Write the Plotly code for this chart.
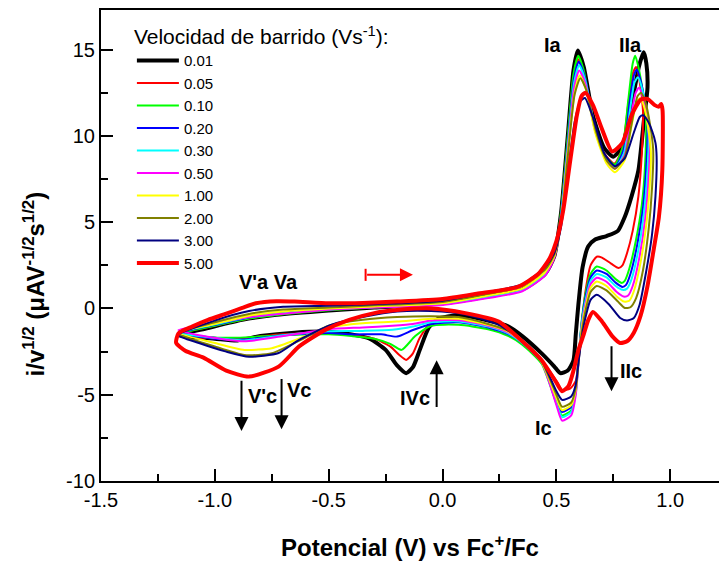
import plotly.graph_objects as go

# Scan rates (V/s) and their line styles
SCAN_RATES = ["0.01", "0.05", "0.10", "0.20", "0.30", "0.50", "1.00", "2.00", "3.00", "5.00"]
COLORS = ["#000000", "#ff0000", "#00ff00", "#0000ff", "#00ffff",
          "#ff00ff", "#ffff00", "#808000", "#000080", "#ff0000"]
WIDTHS = [4, 2, 2, 2, 2, 2, 2, 2, 2, 4]

# Axis ticks (plain hyphen minus signs)
X_TICKS = [-1.5, -1.0, -0.5, 0.0, 0.5, 1.0]
X_TICK_TEXT = ["-1.5", "-1.0", "-0.5", "0.0", "0.5", "1.0"]
Y_TICKS = [-10, -5, 0, 5, 10, 15]
Y_TICK_TEXT = ["-10", "-5", "0", "5", "10", "15"]

# Normalised voltammograms, (E vs Fc+/Fc [V], i/v^1/2) along each closed cycle:
# anodic sweep from the negative vertex, then the cathodic return.
CV_001 = [(-1.16, -1.55), (-1.03, -1.13), (-0.88, -0.66), (-0.73, -0.37), (-0.5, -0.12), (-0.3, 0.05),
          (0.0, 0.3), (0.2, 0.7), (0.35, 1.1), (0.45, 2.0), (0.49, 3.0), (0.52, 5.5), (0.55, 10.0),
          (0.575, 13.8), (0.594, 14.95), (0.62, 14.0), (0.66, 11.2), (0.71, 9.3), (0.75, 8.8),
          (0.79, 9.4), (0.83, 11.8), (0.862, 14.0), (0.883, 14.85), (0.895, 14.2), (0.9, 12.8),
          (0.885, 11.0), (0.86, 8.0), (0.83, 6.5), (0.8, 5.3), (0.77, 4.5), (0.72, 4.2), (0.67, 4.0),
          (0.64, 3.6), (0.615, 2.4), (0.597, 0.3), (0.585, -1.5), (0.575, -3.0), (0.55, -3.6),
          (0.517, -3.75), (0.49, -3.35), (0.435, -2.6), (0.35, -1.6), (0.29, -1.05), (0.2, -0.7),
          (0.07, -0.4), (-0.02, -0.6), (-0.06, -1.1), (-0.1, -2.4), (-0.13, -3.4), (-0.16, -3.75),
          (-0.2, -3.3), (-0.25, -2.4), (-0.32, -1.75), (-0.4, -1.5), (-0.5, -1.35), (-0.65, -1.4),
          (-0.8, -1.6), (-0.9, -1.85), (-1.0, -1.75), (-1.1, -1.65), (-1.16, -1.55)]

CV_005 = [(-1.16, -1.5), (-1.0, -1.0), (-0.85, -0.58), (-0.7, -0.32), (-0.5, -0.08), (-0.3, 0.08),
          (0.0, 0.3), (0.2, 0.7), (0.35, 1.1), (0.45, 2.0), (0.49, 3.0), (0.52, 5.5), (0.55, 9.8),
          (0.575, 13.4), (0.596, 14.45), (0.62, 13.6), (0.66, 11.0), (0.71, 9.0), (0.755, 8.4),
          (0.79, 9.3), (0.815, 11.8), (0.835, 13.6), (0.85, 14.0), (0.865, 13.2), (0.88, 11.5),
          (0.875, 9.0), (0.86, 6.5), (0.835, 4.5), (0.81, 3.2), (0.79, 2.5), (0.773, 2.35),
          (0.74, 2.6), (0.7, 2.95), (0.677, 3.0), (0.65, 2.5), (0.63, 1.2), (0.612, -0.8),
          (0.598, -2.8), (0.585, -4.2), (0.56, -4.65), (0.525, -4.72), (0.5, -4.2), (0.435, -3.0),
          (0.35, -1.9), (0.29, -1.4), (0.2, -1.0), (0.07, -0.7), (-0.05, -0.8), (-0.1, -1.7),
          (-0.13, -2.6), (-0.16, -2.98), (-0.19, -2.7), (-0.23, -2.2), (-0.3, -1.75), (-0.4, -1.55),
          (-0.5, -1.45), (-0.7, -1.5), (-0.9, -1.75), (-1.05, -1.7), (-1.16, -1.5)]

CV_010 = [(-1.16, -1.5), (-1.0, -1.0), (-0.85, -0.58), (-0.7, -0.33), (-0.5, -0.1), (-0.3, 0.05),
          (0.0, 0.25), (0.2, 0.65), (0.35, 1.05), (0.45, 2.0), (0.49, 3.0), (0.52, 5.6), (0.55, 10.0),
          (0.575, 13.6), (0.596, 14.65), (0.62, 13.8), (0.66, 11.0), (0.71, 8.9), (0.757, 8.35),
          (0.79, 9.3), (0.815, 12.0), (0.835, 14.2), (0.846, 14.65), (0.86, 14.0), (0.88, 12.5),
          (0.893, 11.0), (0.89, 8.5), (0.875, 6.0), (0.85, 4.0), (0.82, 2.3), (0.8, 1.6),
          (0.787, 1.48), (0.76, 1.7), (0.72, 2.2), (0.677, 2.43), (0.65, 2.0), (0.63, 1.0),
          (0.612, -0.6), (0.598, -2.8), (0.585, -4.8), (0.565, -5.9), (0.525, -6.2), (0.5, -5.5),
          (0.435, -3.2), (0.35, -2.1), (0.29, -1.6), (0.2, -1.2), (0.07, -0.95), (-0.05, -1.0),
          (-0.12, -1.6), (-0.18, -2.4), (-0.23, -2.05), (-0.3, -1.75), (-0.4, -1.6), (-0.5, -1.5),
          (-0.7, -1.55), (-0.9, -1.7), (-1.05, -1.65), (-1.16, -1.5)]

CV_020 = [(-1.16, -1.45), (-1.0, -0.95), (-0.85, -0.52), (-0.7, -0.28), (-0.5, -0.05), (-0.3, 0.08),
          (0.0, 0.28), (0.2, 0.7), (0.35, 1.1), (0.45, 2.05), (0.49, 3.0), (0.52, 5.4), (0.55, 9.6),
          (0.577, 13.3), (0.598, 14.3), (0.625, 13.4), (0.665, 10.8), (0.715, 8.7), (0.757, 8.2),
          (0.795, 9.2), (0.82, 11.8), (0.84, 13.5), (0.853, 13.85), (0.87, 13.2), (0.89, 11.8),
          (0.9, 10.5), (0.895, 8.3), (0.88, 5.8), (0.855, 3.7), (0.825, 2.0), (0.805, 1.35),
          (0.79, 1.25), (0.76, 1.5), (0.72, 2.0), (0.677, 2.2), (0.65, 1.8), (0.63, 0.8),
          (0.612, -0.7), (0.598, -2.8), (0.585, -4.7), (0.565, -5.7), (0.525, -6.0), (0.5, -5.3),
          (0.435, -3.1), (0.35, -2.0), (0.29, -1.5), (0.2, -1.1), (0.07, -0.8), (-0.05, -0.9),
          (-0.13, -1.25), (-0.2, -1.63), (-0.27, -1.5), (-0.4, -1.5), (-0.5, -1.42), (-0.7, -1.55),
          (-0.87, -1.8), (-1.0, -1.75), (-1.16, -1.45)]

CV_030 = [(-1.16, -1.4), (-1.0, -0.92), (-0.85, -0.5), (-0.7, -0.27), (-0.5, -0.05), (-0.3, 0.08),
          (0.0, 0.25), (0.2, 0.65), (0.35, 1.05), (0.45, 2.0), (0.49, 3.0), (0.52, 5.3), (0.55, 9.4),
          (0.578, 13.1), (0.6, 14.1), (0.627, 13.2), (0.667, 10.6), (0.717, 8.65), (0.757, 8.15),
          (0.797, 9.0), (0.822, 11.4), (0.843, 13.1), (0.858, 13.4), (0.875, 12.8), (0.895, 11.3),
          (0.905, 10.0), (0.9, 8.0), (0.885, 5.6), (0.86, 3.4), (0.83, 1.7), (0.81, 1.15),
          (0.79, 1.08), (0.76, 1.3), (0.72, 1.8), (0.677, 2.0), (0.65, 1.6), (0.63, 0.6),
          (0.612, -0.8), (0.598, -2.9), (0.585, -4.9), (0.565, -6.0), (0.525, -6.3), (0.5, -5.5),
          (0.435, -3.1), (0.35, -2.0), (0.29, -1.45), (0.2, -1.05), (0.07, -0.75), (-0.05, -0.8),
          (-0.13, -1.05), (-0.22, -1.24), (-0.35, -1.3), (-0.5, -1.32), (-0.7, -1.55),
          (-0.87, -1.85), (-1.0, -1.7), (-1.16, -1.4)]

CV_050 = [(-1.16, -1.25), (-1.0, -0.85), (-0.85, -0.5), (-0.7, -0.3), (-0.5, -0.07), (-0.3, 0.05),
          (0.0, 0.2), (0.2, 0.6), (0.35, 1.0), (0.45, 1.9), (0.49, 2.9), (0.52, 5.1), (0.55, 9.2),
          (0.578, 12.8), (0.6, 13.8), (0.628, 13.0), (0.668, 10.4), (0.718, 8.6), (0.757, 8.1),
          (0.8, 8.9), (0.826, 11.0), (0.848, 12.5), (0.863, 12.8), (0.88, 12.2), (0.9, 10.8),
          (0.91, 9.5), (0.905, 7.6), (0.89, 5.2), (0.865, 3.0), (0.835, 1.3), (0.815, 0.75),
          (0.795, 0.69), (0.765, 0.95), (0.72, 1.55), (0.677, 1.78), (0.65, 1.4), (0.63, 0.4),
          (0.612, -1.0), (0.598, -3.0), (0.585, -5.0), (0.565, -6.2), (0.525, -6.5), (0.5, -5.6),
          (0.435, -3.1), (0.35, -1.95), (0.29, -1.4), (0.2, -1.0), (0.07, -0.68), (-0.05, -0.7),
          (-0.13, -0.9), (-0.22, -1.0), (-0.35, -1.1), (-0.5, -1.2), (-0.7, -1.6), (-0.87, -1.9),
          (-1.05, -1.6), (-1.16, -1.25)]

CV_100 = [(-1.16, -1.4), (-1.0, -0.9), (-0.85, -0.42), (-0.7, -0.17), (-0.5, 0.0), (-0.3, 0.12),
          (0.0, 0.3), (0.2, 0.75), (0.35, 1.15), (0.45, 2.1), (0.49, 3.0), (0.52, 5.0), (0.55, 9.0),
          (0.58, 12.5), (0.602, 13.5), (0.63, 12.7), (0.67, 10.2), (0.72, 8.4), (0.757, 7.9),
          (0.8, 8.6), (0.83, 10.6), (0.853, 12.0), (0.868, 12.2), (0.885, 11.7), (0.905, 10.3),
          (0.915, 9.0), (0.91, 7.2), (0.895, 4.9), (0.87, 2.7), (0.84, 1.0), (0.82, 0.45),
          (0.797, 0.4), (0.765, 0.7), (0.72, 1.3), (0.677, 1.56), (0.65, 1.2), (0.63, 0.2),
          (0.612, -1.1), (0.598, -2.9), (0.585, -4.7), (0.565, -5.6), (0.525, -5.9), (0.5, -5.2),
          (0.435, -3.1), (0.35, -1.95), (0.29, -1.35), (0.2, -0.95), (0.07, -0.6), (-0.05, -0.6),
          (-0.2, -0.76), (-0.35, -0.85), (-0.5, -1.1), (-0.62, -1.7), (-0.75, -2.3), (-0.87, -2.4),
          (-1.0, -2.0), (-1.16, -1.4)]

CV_200 = [(-1.16, -1.45), (-1.0, -0.8), (-0.85, -0.32), (-0.7, -0.06), (-0.5, 0.06), (-0.3, 0.18),
          (0.0, 0.38), (0.2, 0.85), (0.35, 1.3), (0.45, 2.25), (0.49, 3.1), (0.52, 4.9), (0.55, 8.8),
          (0.58, 12.4), (0.605, 13.35), (0.633, 12.6), (0.673, 10.3), (0.72, 8.6), (0.757, 8.1),
          (0.8, 8.8), (0.833, 10.9), (0.856, 12.3), (0.871, 12.5), (0.89, 12.0), (0.912, 10.6),
          (0.925, 9.2), (0.92, 7.0), (0.905, 4.6), (0.88, 2.2), (0.85, 0.6), (0.825, 0.07),
          (0.8, 0.03), (0.77, 0.4), (0.72, 1.05), (0.677, 1.3), (0.65, 0.95), (0.63, 0.0),
          (0.612, -1.3), (0.598, -3.0), (0.585, -4.6), (0.565, -5.45), (0.525, -5.7), (0.5, -5.0),
          (0.435, -3.05), (0.35, -1.9), (0.29, -1.3), (0.2, -0.9), (0.07, -0.5), (-0.05, -0.45),
          (-0.2, -0.5), (-0.35, -0.66), (-0.5, -1.0), (-0.62, -1.8), (-0.75, -2.6), (-0.87, -2.7),
          (-1.0, -2.2), (-1.16, -1.45)]

CV_300 = [(-1.16, -1.55), (-1.0, -0.7), (-0.85, -0.15), (-0.7, 0.1), (-0.5, 0.16), (-0.3, 0.25),
          (0.0, 0.45), (0.2, 0.95), (0.35, 1.4), (0.45, 2.4), (0.49, 3.2), (0.52, 4.7), (0.55, 7.8),
          (0.58, 10.8), (0.605, 12.0), (0.625, 12.2), (0.66, 11.1), (0.71, 9.0), (0.757, 8.25),
          (0.8, 8.7), (0.84, 10.2), (0.866, 11.1), (0.88, 11.2), (0.9, 10.9), (0.92, 10.3),
          (0.935, 9.6), (0.94, 8.8), (0.935, 6.5), (0.92, 4.3), (0.895, 2.2), (0.865, 0.2),
          (0.84, -0.55), (0.81, -0.7), (0.78, -0.55), (0.73, 0.25), (0.677, 0.79), (0.65, 0.5),
          (0.63, -0.4), (0.612, -1.6), (0.598, -3.0), (0.585, -4.4), (0.565, -5.1), (0.525, -5.3),
          (0.5, -4.8), (0.435, -3.0), (0.35, -1.85), (0.246, -0.95), (0.1, -0.35), (-0.05, -0.15),
          (-0.2, -0.18), (-0.34, -0.47), (-0.49, -0.95), (-0.63, -1.82), (-0.72, -2.58),
          (-0.85, -2.8), (-0.95, -2.5), (-1.07, -2.0), (-1.16, -1.55)]

CV_500 = [(-1.16, -1.45), (-1.1, -1.05), (-1.03, -0.66), (-0.95, -0.3), (-0.88, 0.03), (-0.82, 0.3),
          (-0.73, 0.42), (-0.65, 0.4), (-0.5, 0.3), (-0.35, 0.32), (-0.2, 0.4), (0.0, 0.55),
          (0.15, 0.85), (0.33, 1.25), (0.42, 2.0), (0.47, 2.9), (0.5, 3.9), (0.53, 5.7), (0.56, 8.5),
          (0.59, 11.2), (0.61, 12.3), (0.627, 12.5), (0.66, 11.8), (0.7, 10.4), (0.745, 9.1),
          (0.79, 9.6), (0.83, 11.2), (0.87, 12.1), (0.9, 12.15), (0.93, 11.8), (0.95, 11.7),
          (0.96, 11.85), (0.966, 11.5), (0.965, 8.0), (0.95, 5.3), (0.927, 3.4), (0.9, 1.3),
          (0.87, -0.4), (0.84, -1.4), (0.81, -1.9), (0.78, -2.0), (0.745, -1.6), (0.7, -0.75),
          (0.66, -0.2), (0.64, -0.66), (0.62, -1.5), (0.597, -2.4), (0.575, -3.6), (0.553, -4.5),
          (0.525, -4.8), (0.5, -4.3), (0.435, -3.0), (0.35, -1.9), (0.246, -0.76), (0.1, -0.27),
          (-0.05, 0.0), (-0.19, -0.08), (-0.3, -0.27), (-0.41, -0.66), (-0.515, -1.24),
          (-0.63, -2.2), (-0.72, -3.37), (-0.85, -3.95), (-0.95, -3.6), (-1.05, -2.85),
          (-1.13, -2.45), (-1.17, -2.0), (-1.16, -1.45)]

CURVES = [CV_001, CV_005, CV_010, CV_020, CV_030, CV_050, CV_100, CV_200, CV_300, CV_500]

FONT = "Liberation Sans, Arial, sans-serif"

fig = go.Figure()
for name, pts, color, width in zip(SCAN_RATES, CURVES, COLORS, WIDTHS):
    e, i = zip(*pts)
    fig.add_trace(go.Scatter(
        x=list(e), y=list(i), mode="lines", name=name,
        line=dict(color=color, width=width, shape="spline", smoothing=0.6),
    ))

# Peak labels
labels = [
    ("Ia", 0.487, 15.25), ("IIa", 0.826, 15.25), ("V'a Va", -0.764, 1.55),
    ("V'c", -0.79, -5.05), ("Vc", -0.632, -4.7), ("IVc", -0.123, -5.2),
    ("Ic", 0.444, -6.9), ("IIc", 0.826, -3.6),
]
annotations = [
    dict(x=x, y=y, text=f"<b>{t}</b>", showarrow=False, xref="x", yref="y",
         font=dict(family=FONT, size=20, color="black"))
    for t, x, y in labels
]

# Black arrows marking the peaks (tail -> head)
arrows = [(-0.883, -4.1, -0.883, -7.1), (-0.707, -4.0, -0.707, -7.0),
          (-0.026, -5.8, -0.026, -3.0), (0.742, -2.1, 0.742, -4.8)]
for ax, ay, x, y in arrows:
    annotations.append(dict(x=x, y=y, ax=ax, ay=ay, xref="x", yref="y", axref="x", ayref="y",
                            text="", showarrow=True, arrowhead=2, arrowsize=1.4,
                            arrowwidth=2, arrowcolor="black"))

# Red arrow: initial sweep direction
annotations.append(dict(x=-0.13, y=1.95, ax=-0.338, ay=1.95, xref="x", yref="y",
                        axref="x", ayref="y", text="", showarrow=True, arrowhead=2,
                        arrowsize=1.3, arrowwidth=2, arrowcolor="#ff0000"))

# Y-axis title
annotations.append(dict(
    x=-0.108, y=0.418, xref="paper", yref="paper", textangle=-90, showarrow=False,
    text="<b>i/v<sup>1/2</sup> (μAV<sup>-1/2</sup>s<sup>1/2</sup>)</b>",
    font=dict(family=FONT, size=24, color="black"), xanchor="center", yanchor="middle",
))

shapes = [dict(type="line", xref="x", yref="y", x0=-0.338, x1=-0.338, y0=1.6, y1=2.3,
               line=dict(color="#ff0000", width=2))]

fig.update_layout(
    width=719, height=562,
    margin=dict(l=101, r=0, t=10, b=81),
    paper_bgcolor="white", plot_bgcolor="white",
    font=dict(family=FONT, color="black"),
    annotations=annotations, shapes=shapes,
    legend=dict(
        x=0.05, y=0.985, xanchor="left", yanchor="top",
        bgcolor="rgba(0,0,0,0)", borderwidth=0,
        font=dict(family=FONT, size=15, color="black"),
        title=dict(text="Velocidad de barrido (Vs<sup>-1</sup>):",
                   font=dict(family=FONT, size=21, color="black")),
        tracegroupgap=0, itemwidth=42,
    ),
)

fig.update_xaxes(
    range=[-1.5, 1.214], showgrid=False, zeroline=False,
    showline=True, linecolor="black", linewidth=2, mirror=True,
    ticks="inside", ticklen=12, tickwidth=2, tickcolor="black",
    tickmode="array", tickvals=X_TICKS, ticktext=X_TICK_TEXT,
    tickfont=dict(family=FONT, size=20, color="black"),
    minor=dict(tickmode="linear", tick0=0, dtick=0.25, ticks="inside", ticklen=7,
               tickwidth=2, tickcolor="black", showgrid=False),
    title=dict(text="<b>Potencial (V) vs Fc<sup>+</sup>/Fc</b>",
               font=dict(family=FONT, size=24, color="black"), standoff=29),
)
fig.update_yaxes(
    range=[-10, 17.3], showgrid=False, zeroline=False,
    showline=True, linecolor="black", linewidth=2, mirror=False,
    ticks="inside", ticklen=12, tickwidth=2, tickcolor="black",
    tickmode="array", tickvals=Y_TICKS, ticktext=Y_TICK_TEXT,
    tickfont=dict(family=FONT, size=20, color="black"),
    minor=dict(tickmode="linear", tick0=0, dtick=2.5, ticks="inside", ticklen=7,
               tickwidth=2, tickcolor="black", showgrid=False),
)

fig.write_html("out.html")
